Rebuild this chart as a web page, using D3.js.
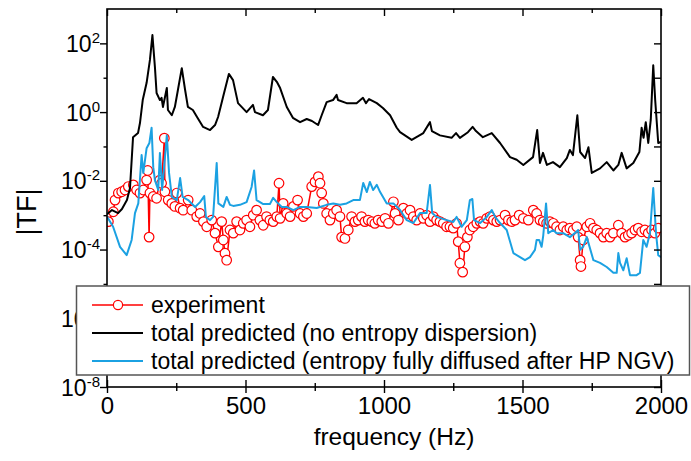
<!DOCTYPE html>
<html>
<head>
<meta charset="utf-8">
<script src="https://cdn.jsdelivr.net/npm/d3@7"></script>
<style>
  body { margin: 0; background: #fff; }
  svg { display: block; font-family: "Liberation Sans", Arial, sans-serif; }
</style>
</head>
<body>
<div id="chart"></div>
<script>
// measured |TF| (circles)
const expFreq = [
  5, 23, 29, 41, 53, 65, 77, 95, 107, 119,
  131, 143, 147, 152, 155, 167, 179, 191, 197, 207,
  209, 221, 234, 245, 252, 264, 275, 293, 306, 324,
  336, 348, 360, 378, 390, 402, 414, 420, 426, 432,
  444, 456, 468, 480, 492, 504, 516, 528, 540, 552,
  564, 576, 588, 600, 613, 621, 625, 636, 649, 661,
  673, 688, 697, 709, 721, 739, 751, 763, 769, 775,
  781, 793, 805, 817, 829, 841, 847, 859, 871, 883,
  895, 907, 919, 931, 943, 956, 967, 979, 992, 1004,
  1016, 1034, 1040, 1052, 1070, 1082, 1094, 1106, 1118, 1130,
  1142, 1154, 1166, 1178, 1190, 1202, 1214, 1226, 1238, 1250,
  1262, 1268, 1274, 1284, 1292, 1301, 1310, 1322, 1335, 1347,
  1358, 1371, 1383, 1395, 1407, 1419, 1437, 1449, 1461, 1473,
  1488, 1503, 1521, 1539, 1551, 1563, 1575, 1587, 1599, 1611,
  1623, 1635, 1647, 1660, 1671, 1683, 1696, 1701, 1708, 1711,
  1719, 1732, 1744, 1756, 1768, 1780, 1792, 1804, 1816, 1828,
  1846, 1858, 1870, 1882, 1894, 1906, 1918, 1930, 1942, 1954,
  1966, 1978, 1990
];
const expTF = [
  6.5e-4, 1.26e-3, 2.75e-3, 4.4e-3, 4.8e-3, 5.4e-3, 6.8e-3, 7.6e-3, 5.4e-3, 4.4e-3,
  5.4e-3, 1.05e-2, 2.0e-2, 2.3e-4, 4.4e-3, 3.5e-3, 3.1e-3, 1.05e-2, 8.5e-3, 0.174,
  4.8e-3, 2.75e-3, 2.2e-3, 1.8e-3, 4.4e-3, 1.6e-3, 1.4e-3, 2.75e-3, 1.4e-3, 9.1e-4,
  1.12e-3, 6.5e-4, 4.6e-4, 7.2e-4, 3.0e-4, 1.2e-4, 6.5e-4, 1.9e-4, 7.8e-5, 4.9e-5,
  3.7e-4, 3.0e-4, 6.5e-4, 3.7e-4, 5.8e-4, 7.2e-4, 4.6e-4, 1.0e-3, 1.4e-3, 7.2e-4,
  5.1e-4, 9.1e-4, 7.2e-4, 6.5e-4, 9.1e-4, 8.5e-3, 8.1e-4, 2.2e-3, 1.12e-3, 9.1e-4,
  1.8e-3, 2.75e-3, 1.12e-3, 9.1e-4, 1.12e-3, 6.8e-3, 9.3e-3, 1.32e-2, 8.5e-3, 4.4e-3,
  2.2e-3, 1.12e-3, 7.2e-4, 1.12e-3, 1.4e-3, 9.1e-4, 2.3e-4, 2.1e-4, 3.7e-4, 9.1e-4,
  6.5e-4, 7.2e-4, 9.1e-4, 6.5e-4, 7.2e-4, 6.5e-4, 5.8e-4, 7.2e-4, 6.5e-4, 8.1e-4,
  5.8e-4, 2.45e-3, 1.12e-3, 7.2e-4, 1.6e-3, 1.12e-3, 1.4e-3, 9.1e-4, 7.2e-4, 1.12e-3,
  8.1e-4, 1.0e-3, 6.5e-4, 9.1e-4, 7.2e-4, 6.5e-4, 5.8e-4, 4.6e-4, 4.6e-4, 4.2e-4,
  5.8e-4, 1.7e-4, 4.0e-5, 2.2e-5, 1.2e-4, 2.3e-4, 3.7e-4, 4.6e-4, 5.8e-4, 6.5e-4,
  5.8e-4, 8.1e-4, 9.1e-4, 7.2e-4, 6.5e-4, 7.2e-4, 1.0e-3, 7.2e-4, 6.5e-4, 7.2e-4,
  1.0e-3, 8.1e-4, 7.2e-4, 1.4e-3, 1.12e-3, 7.2e-4, 6.5e-4, 5.8e-4, 6.5e-4, 5.8e-4,
  4.6e-4, 3.7e-4, 4.6e-4, 3.7e-4, 4.2e-4, 3.7e-4, 4.6e-4, 2.3e-4, 4.9e-5, 3.2e-5,
  1.9e-4, 4.6e-4, 5.8e-4, 4.2e-4, 3.7e-4, 3.0e-4, 2.3e-4, 3.0e-4, 2.3e-4, 3.0e-4,
  5.1e-4, 3.0e-4, 2.3e-4, 2.6e-4, 3.0e-4, 3.7e-4, 4.2e-4, 3.3e-4, 3.7e-4, 3.0e-4,
  3.7e-4, 3.0e-4, 4.2e-4
];

// total predicted, no entropy dispersion (black)
const noDispFreq = [
  0, 18, 40, 54, 72, 83, 94, 112, 119, 129,
  143, 155, 164, 173, 179, 191, 197, 202, 216, 220,
  234, 245, 256, 270, 282, 292, 310, 325, 347, 372,
  390, 401, 419, 440, 455, 473, 504, 527, 534, 563,
  581, 599, 613, 625, 649, 671, 697, 721, 740, 762,
  775, 793, 816, 829, 834, 865, 901, 924, 935, 946,
  974, 996, 1022, 1046, 1058, 1100, 1142, 1166, 1173, 1202,
  1244, 1260, 1274, 1303, 1320, 1332, 1357, 1389, 1419, 1455,
  1479, 1503, 1538, 1553, 1563, 1574, 1588, 1610, 1635, 1660,
  1671, 1682, 1698, 1708, 1726, 1738, 1750, 1780, 1804, 1828,
  1846, 1858, 1876, 1900, 1922, 1930, 1937, 1945, 1954, 1963,
  1972, 1979, 1990, 2000
];
const noDispTF = [
  1.07e-3, 1.41e-3, 1.15e-3, 1.51e-3, 2.75e-3, 6.2e-3, 0.186, 0.245, 0.48, 2.24,
  7.1, 33, 174, 20.4, 3.6, 2.24, 2.6, 1.41, 5.0, 1.15,
  0.81, 1.41, 4.4, 19, 4.4, 1.41, 1.15, 0.72, 0.37, 0.30,
  0.42, 0.72, 2.75, 12.9, 8.5, 1.82, 1.0, 1.62, 1.0, 0.81,
  1.15, 10.5, 7.6, 5.0, 1.41, 0.68, 0.51, 0.63, 0.55, 0.42,
  0.81, 1.95, 2.24, 3.16, 2.24, 1.82, 1.82, 2.6, 1.82, 2.4,
  1.82, 1.32, 0.81, 0.35, 0.26, 0.155, 0.245, 0.51, 0.28, 0.21,
  0.178, 0.245, 0.178, 0.26, 0.37, 0.28, 0.186, 0.245, 0.126, 0.049,
  0.041, 0.029, 0.049, 0.30, 0.033, 0.065, 0.029, 0.035, 0.025, 0.046,
  0.079, 0.056, 0.81, 0.069, 0.046, 0.095, 0.017, 0.023, 0.035, 0.020,
  0.029, 0.065, 0.023, 0.033, 0.069, 0.35, 0.178, 0.51, 0.126, 0.59,
  23, 2.24, 0.126, 0.135
];

// total predicted, entropy fully diffused after HP NGV (blue)
const diffusedFreq = [
  0, 22, 47, 71, 89, 101, 113, 125, 131, 143,
  153, 161, 167, 173, 185, 191, 199, 216, 224, 234,
  252, 264, 273, 293, 318, 336, 351, 357, 372, 383,
  396, 402, 420, 432, 444, 456, 480, 504, 522, 531,
  540, 564, 588, 600, 613, 631, 649, 673, 697, 721,
  757, 793, 817, 841, 865, 889, 913, 925, 938, 949,
  961, 974, 986, 1010, 1034, 1058, 1082, 1106, 1130, 1154,
  1166, 1174, 1190, 1226, 1250, 1262, 1280, 1299, 1310, 1319,
  1325, 1347, 1371, 1389, 1401, 1419, 1443, 1467, 1491, 1509,
  1527, 1545, 1551, 1560, 1569, 1575, 1585, 1593, 1611, 1623,
  1647, 1671, 1689, 1701, 1708, 1719, 1732, 1756, 1780, 1804,
  1828, 1840, 1846, 1852, 1864, 1876, 1888, 1912, 1924, 1936,
  1948, 1960, 1972, 1982, 1990, 2000
];
const diffusedTF = [
  9.1e-4, 4.6e-4, 1.2e-4, 6.9e-5, 1.9e-4, 1.15e-3, 2.2e-3, 0.056, 0.017, 0.089,
  0.126, 0.35, 0.025, 0.0105, 5.4e-3, 0.065, 5.4e-3, 0.21, 0.017, 3.4e-3,
  2.75e-3, 0.012, 3.4e-3, 2.75e-3, 1.74e-3, 2.4e-3, 3.6e-3, 8.9e-4, 7.2e-4, 8.9e-4,
  0.033, 2.2e-3, 1.74e-3, 3.4e-3, 2.0e-3, 1.86e-3, 2.0e-3, 2.4e-3, 6.6e-3, 0.020,
  2.75e-3, 2.1e-3, 2.1e-3, 3.2e-3, 2.4e-3, 1.74e-3, 1.74e-3, 1.41e-3, 1.74e-3, 1.74e-3,
  1.62e-3, 2.0e-3, 2.2e-3, 2.0e-3, 2.2e-3, 2.75e-3, 2.75e-3, 8.7e-3, 4.7e-3, 9.3e-3,
  5.4e-3, 7.6e-3, 4.7e-3, 2.2e-3, 2.2e-3, 1.41e-3, 7.2e-4, 5.9e-4, 1.15e-3, 1.15e-3,
  7.6e-3, 1.15e-3, 8.9e-4, 7.2e-4, 6.3e-4, 8.9e-4, 4.6e-4, 7.2e-4, 2.75e-3, 2.95e-3,
  7.2e-4, 5.9e-4, 8.9e-4, 1.41e-3, 8.9e-4, 5.9e-4, 3.7e-4, 7.9e-5, 6.0e-5, 4.9e-5,
  6.0e-5, 9.8e-5, 1.9e-4, 1.9e-4, 1.2e-4, 2.6e-4, 2.2e-3, 3.0e-4, 3.7e-4, 3.0e-4,
  3.0e-4, 2.3e-4, 3.0e-4, 3.7e-4, 9.8e-5, 1.2e-4, 2.3e-4, 4.9e-5, 4.1e-5, 3.1e-5,
  2.1e-5, 2.1e-5, 7.9e-5, 4.1e-5, 2.5e-5, 5.6e-5, 1.8e-5, 1.8e-5, 2.1e-5, 1.9e-4,
  1.2e-4, 3.0e-4, 6.2e-3, 3.0e-4, 6.9e-5, 6.0e-5
];

// ticks and labels
const xMajor = [0, 500, 1000, 1500, 2000];
const xMinor = [250, 750, 1250, 1750];
const yMajor = [1e-8, 1e-6, 1e-4, 1e-2, 1e0, 1e2];
const yMinor = [1e-7, 1e-5, 1e-3, 1e-1, 1e1];
const legendLabels = [
  "experiment",
  "total predicted (no entropy dispersion)",
  "total predicted (entropy fully diffused after HP NGV)"
];

const W = 691, H = 461;
const plotL = 107, plotR = 661, plotT = 9, plotB = 387;
const red = "#ff0000", black = "#000000", blue = "#1ba1e2";

const svg = d3.select("#chart").append("svg")
  .attr("width", W).attr("height", H);

const x = d3.scaleLinear().domain([0, 2000]).range([plotL, plotR]);
const y = d3.scaleLog().domain([1e-8, 1e3]).range([plotB, plotT]);

svg.append("clipPath").attr("id", "plot-clip")
  .append("rect")
  .attr("x", plotL).attr("y", plotT)
  .attr("width", plotR - plotL).attr("height", plotB - plotT);

const zip = (f, v) => f.map((d, i) => [d, v[i]]);
const line = d3.line().x(d => x(d[0])).y(d => y(d[1]));

const plot = svg.append("g").attr("clip-path", "url(#plot-clip)");

// experiment: line under white-filled circles
const expData = zip(expFreq, expTF);
plot.append("path").datum(expData)
  .attr("d", line).attr("fill", "none")
  .attr("stroke", red).attr("stroke-width", 1.5);
plot.selectAll("circle.exp").data(expData).enter()
  .append("circle").attr("class", "exp")
  .attr("cx", d => x(d[0])).attr("cy", d => y(d[1]))
  .attr("r", 4.8)
  .attr("fill", "#fff").attr("stroke", red).attr("stroke-width", 1.2);

plot.append("path").datum(zip(noDispFreq, noDispTF))
  .attr("d", line).attr("fill", "none")
  .attr("stroke", black).attr("stroke-width", 2)
  .attr("stroke-linejoin", "round");

plot.append("path").datum(zip(diffusedFreq, diffusedTF))
  .attr("d", line).attr("fill", "none")
  .attr("stroke", blue).attr("stroke-width", 2)
  .attr("stroke-linejoin", "round");

// frame
svg.append("rect")
  .attr("x", plotL).attr("y", plotT)
  .attr("width", plotR - plotL).attr("height", plotB - plotT)
  .attr("fill", "none").attr("stroke", "#000").attr("stroke-width", 1.6);

function clean(g) {
  g.attr("font-family", null).attr("font-size", null);
  g.select(".domain").remove();
  g.selectAll(".tick line").attr("stroke", "#000").attr("stroke-width", 1.4);
}

// bottom
const gx = svg.append("g").attr("transform", `translate(0,${plotB})`)
  .call(d3.axisBottom(x).tickValues(xMajor).tickFormat(d3.format("d")))
  .call(clean);
gx.selectAll(".tick line").attr("y1", -7).attr("y2", 6);
gx.selectAll(".tick text").attr("y", 27).attr("dy", null)
  .attr("fill", "#000").style("font-size", "24px");

svg.append("g").attr("transform", `translate(0,${plotB})`)
  .call(d3.axisBottom(x).tickValues(xMinor).tickFormat(() => ""))
  .call(clean)
  .selectAll(".tick line").attr("y1", -4).attr("y2", 4);

// top (inward)
svg.append("g").attr("transform", `translate(0,${plotT})`)
  .call(d3.axisTop(x).tickValues(xMajor).tickSize(-7).tickFormat(() => ""))
  .call(clean);
svg.append("g").attr("transform", `translate(0,${plotT})`)
  .call(d3.axisTop(x).tickValues(xMinor).tickSize(-4).tickFormat(() => ""))
  .call(clean);

// left (outward)
svg.append("g").attr("transform", `translate(${plotL},0)`)
  .call(d3.axisLeft(y).tickValues(yMajor).tickSize(7).tickFormat(() => ""))
  .call(clean);
svg.append("g").attr("transform", `translate(${plotL},0)`)
  .call(d3.axisLeft(y).tickValues(yMinor).tickSize(3.5).tickFormat(() => ""))
  .call(clean);

// right (inward)
svg.append("g").attr("transform", `translate(${plotR},0)`)
  .call(d3.axisRight(y).tickValues(yMajor.concat(yMinor)).tickSize(-7).tickFormat(() => ""))
  .call(clean);

// y labels 10^n
const yl = svg.append("g").selectAll("text").data(yMajor).enter()
  .append("text")
  .attr("x", 100).attr("y", d => y(d) + 8.5)
  .attr("text-anchor", "end").attr("fill", "#000")
  .style("font-size", "23px");
yl.append("tspan").text("10");
yl.append("tspan").attr("dy", -9).style("font-size", "15px")
  .text(d => String(Math.round(Math.log10(d))));

// axis titles
svg.append("text")
  .attr("x", 394).attr("y", 445)
  .attr("text-anchor", "middle").style("font-size", "24.5px")
  .text("frequency (Hz)");
svg.append("text")
  .attr("transform", "translate(36,212) rotate(-90)")
  .attr("text-anchor", "middle").style("font-size", "27px")
  .text("|TF|");

// legend
const lg = svg.append("g");
lg.append("rect")
  .attr("x", 76.5).attr("y", 286).attr("width", 613).attr("height", 89)
  .attr("fill", "#fff").attr("stroke", "#555").attr("stroke-width", 1.5);
const rowY = [305, 333, 361];
const rowColor = [red, black, blue];
legendLabels.forEach((t, i) => {
  lg.append("line")
    .attr("x1", 92).attr("x2", 143).attr("y1", rowY[i]).attr("y2", rowY[i])
    .attr("stroke", rowColor[i]).attr("stroke-width", i === 0 ? 1.5 : 2);
  if (i === 0) {
    lg.append("circle").attr("cx", 118).attr("cy", rowY[i]).attr("r", 4.6)
      .attr("fill", "#fff").attr("stroke", red).attr("stroke-width", 1.2);
  }
  lg.append("text")
    .attr("x", 151).attr("y", rowY[i] + 8)
    .style("font-size", "23px").attr("fill", "#000")
    .text(t);
});
</script>
</body>
</html>
